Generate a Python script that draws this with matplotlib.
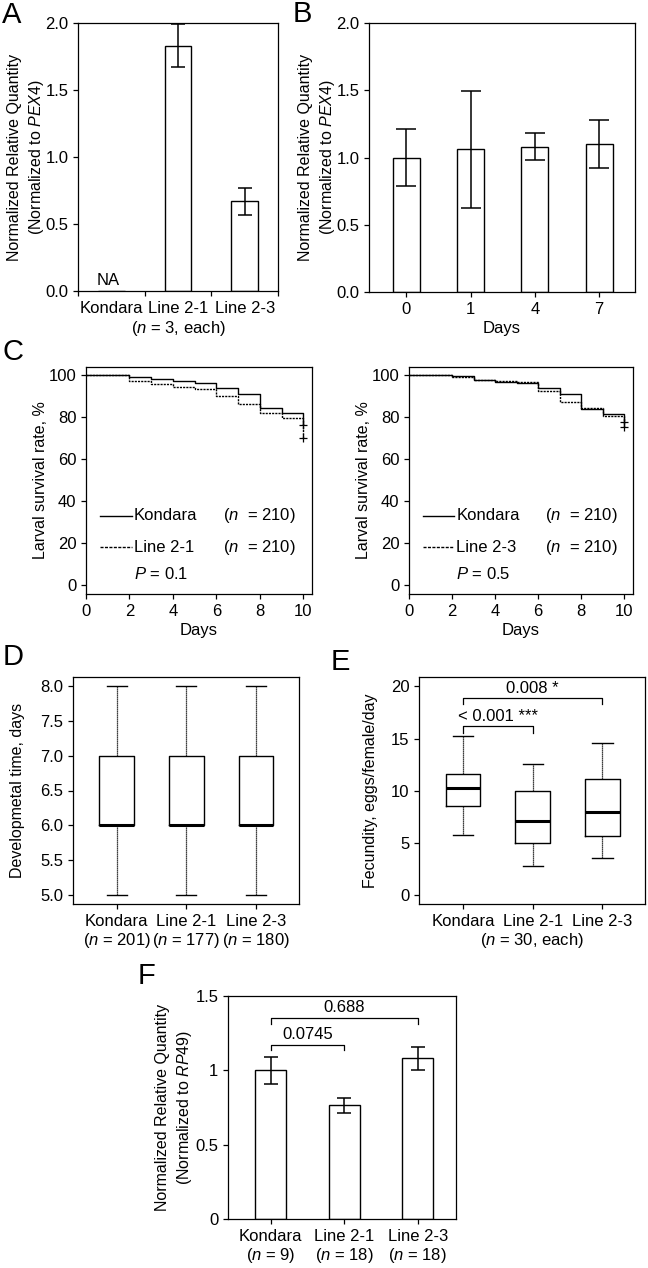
import numpy as np
import matplotlib
matplotlib.use("Agg")
import matplotlib.pyplot as plt

plt.rcParams['font.family'] = ['Liberation Sans', 'DejaVu Sans']
plt.rcParams['mathtext.fontset'] = 'custom'
plt.rcParams['mathtext.rm'] = 'Liberation Sans'
plt.rcParams['mathtext.it'] = 'Liberation Sans:italic'
plt.rcParams['font.size'] = 12
plt.rcParams['axes.linewidth'] = 0.9
plt.rcParams['xtick.major.width'] = 0.9
plt.rcParams['ytick.major.width'] = 0.9
plt.rcParams['xtick.major.size'] = 3.5
plt.rcParams['ytick.major.size'] = 3.5

# ---- data ----
# A: expression in lines
a_groups = ["Kondara", "Line 2-1", "Line 2-3"]
a_values = [np.nan, 1.83, 0.67]
a_errors = [0, 0.16, 0.10]

# B: expression over days
b_days = ["0", "1", "4", "7"]
b_values = [1.00, 1.06, 1.08, 1.10]
b_errors = [0.21, 0.435, 0.10, 0.18]

# C: larval survival (Kaplan-Meier)
surv_days = [0, 2, 3, 4, 5, 6, 7, 8, 9, 10]
surv_kondara_l = [100, 98.8, 97.9, 96.9, 96.0, 93.6, 90.9, 84.5, 82.1, 76.4]
surv_line21 = [100, 97.1, 95.9, 94.4, 93.5, 89.8, 86.3, 82.1, 79.6, 70.2]
surv_kondara_r = [100, 99.4, 97.7, 96.8, 96.3, 93.8, 91.0, 83.8, 81.4, 77.8]
surv_line23 = [100, 99.0, 97.7, 97.0, 96.8, 92.6, 87.3, 84.4, 80.6, 75.4]

# D: developmental time boxplot stats
d_labels = ["Kondara\n($\\it{n}$ = 201)", "Line 2-1\n($\\it{n}$ = 177)", "Line 2-3\n($\\it{n}$ = 180)"]
d_low = [5.0, 5.0, 5.0]
d_q1 = [6.0, 6.0, 6.0]
d_med = [6.0, 6.0, 6.0]
d_q3 = [7.0, 7.0, 7.0]
d_high = [8.0, 8.0, 8.0]

# E: fecundity boxplot stats
e_groups = ["Kondara", "Line 2-1", "Line 2-3"]
e_low = [5.75, 2.75, 3.55]
e_q1 = [8.5, 4.95, 5.65]
e_med = [10.3, 7.1, 7.95]
e_q3 = [11.6, 10.0, 11.1]
e_high = [15.2, 12.55, 14.6]

# F: expression normalized to RP49
f_labels = ["Kondara\n($\\it{n}$ = 9)", "Line 2-1\n($\\it{n}$ = 18)", "Line 2-3\n($\\it{n}$ = 18)"]
f_values = [1.00, 0.765, 1.08]
f_errors = [0.09, 0.05, 0.077]

W, H = 648, 1268
fig = plt.figure(figsize=(W / 100, H / 100), dpi=100)


def add_ax(l, r, t, b):
    return fig.add_axes([l / W, 1 - b / H, (r - l) / W, (b - t) / H])


def panel_label(x, y, s):
    fig.text(x / W, 1 - y / H, s, fontsize=21, ha='center', va='center')


def tidy(ax):
    ax.tick_params(top=False, right=False, direction='out', labelsize=12)


bar_kw = dict(color='white', edgecolor='black', linewidth=1.0)
err_kw = dict(fmt='none', ecolor='black', elinewidth=1.1, capthick=1.1)
qty_label = "Normalized Relative Quantity\n(Normalized to $\\it{PEX4}$)"
lab_fs = 11.5

# ---- A ----
ax = add_ax(78, 278, 23, 291)
xa = np.arange(len(a_groups))
ax.bar(xa, np.nan_to_num(a_values), width=0.4, **bar_kw)
ax.errorbar(xa[1:], a_values[1:], yerr=a_errors[1:], capsize=4.8, **err_kw)
ax.text(xa[0] - 0.05, 0.02, "NA", ha='center', va='bottom')
ax.set_xlim(-0.5, 2.5)
ax.set_ylim(0, 2.0)
ax.set_yticks([0, 0.5, 1.0, 1.5, 2.0])
ax.set_yticklabels(["0.0", "0.5", "1.0", "1.5", "2.0"])
ax.set_xticks(xa)
ax.set_xticklabels(a_groups)
ax.tick_params(axis='x', which='major', length=0, pad=7)
ax.set_xticks([-0.5, 0.5, 1.5, 2.5], minor=True)
ax.tick_params(axis='x', which='minor', length=3.5, width=0.9)
ax.set_xlabel("($\\it{n}$ = 3, each)", labelpad=2)
ax.set_ylabel(qty_label, linespacing=1.35, fontsize=lab_fs)
ax.yaxis.set_label_coords(-0.16, 0.5)
tidy(ax)
panel_label(12, 15, "A")

# ---- B ----
ax = add_ax(369, 635, 23, 292)
xb = np.arange(len(b_days))
ax.bar(xb, b_values, width=0.42, **bar_kw)
ax.errorbar(xb, b_values, yerr=b_errors, capsize=7.5, **err_kw)
ax.set_xlim(-0.58, 3.56)
ax.set_ylim(0, 2.0)
ax.set_yticks([0, 0.5, 1.0, 1.5, 2.0])
ax.set_yticklabels(["0.0", "0.5", "1.0", "1.5", "2.0"])
ax.set_xticks(xb)
ax.set_xticklabels(b_days)
ax.set_xlabel("Days", labelpad=3)
ax.set_ylabel(qty_label, linespacing=1.35, fontsize=lab_fs)
ax.yaxis.set_label_coords(-0.122, 0.5)
tidy(ax)
panel_label(302, 14, "B")

# ---- C ----
def survival(ax, k_vals, l_vals, line_name, pval, lab_x):
    ax.step(surv_days, k_vals, where='post', color='black', lw=1.0)
    ax.step(surv_days, l_vals, where='post', color='black', lw=1.0,
            linestyle=(0, (1.5, 0.8)))
    ax.plot([surv_days[-1]], [k_vals[-1]], marker='+', color='black', ms=6, mew=0.9)
    ax.plot([surv_days[-1]], [l_vals[-1]], marker='+', color='black', ms=6, mew=0.9)
    ax.plot([0.65, 2.1], [33, 33], color='black', lw=1.0)
    ax.plot([0.65, 2.1], [18, 18], color='black', lw=1.0, linestyle=(0, (2.2, 1.0)))
    ax.text(2.2, 33, "Kondara", va='center')
    ax.text(2.2, 18, line_name, va='center')
    ax.text(6.3, 33, "($\\it{n}$  = 210)", va='center')
    ax.text(6.3, 18, "($\\it{n}$  = 210)", va='center')
    ax.text(2.2, 5, "$\\it{P}$ = " + pval, va='center')
    ax.set_xlim(0, 10.4)
    ax.set_ylim(-4.3, 103.8)
    ax.set_xticks([0, 2, 4, 6, 8, 10])
    ax.set_yticks([0, 20, 40, 60, 80, 100])
    ax.set_xlabel("Days", labelpad=3)
    ax.set_ylabel("Larval survival rate, %", fontsize=lab_fs)
    ax.yaxis.set_label_coords(lab_x, 0.5)
    tidy(ax)


ax = add_ax(86, 312, 367, 594)
survival(ax, surv_kondara_l, surv_line21, "Line 2-1", "0.1", -0.17)
ax = add_ax(409, 633, 367, 594)
survival(ax, surv_kondara_r, surv_line23, "Line 2-3", "0.5", -0.168)
panel_label(13, 352, "C")

# ---- D and E ----
def boxes(ax, low, q1, med, q3, high):
    stats = []
    for i in range(len(med)):
        stats.append(dict(whislo=low[i], q1=q1[i], med=med[i], q3=q3[i],
                          whishi=high[i], fliers=[]))
    ax.bxp(stats, positions=range(len(med)), widths=0.5, showfliers=False,
           boxprops=dict(color='black', lw=1.0),
           medianprops=dict(color='black', lw=2.2),
           whiskerprops=dict(color='black', lw=0.9, linestyle=(0, (1, 0.6))),
           capprops=dict(color='black', lw=1.0), capwidths=0.29)


ax = add_ax(73, 299, 677, 904)
boxes(ax, d_low, d_q1, d_med, d_q3, d_high)
ax.set_xlim(-0.63, 2.62)
ax.set_ylim(4.87, 8.13)
ax.set_yticks([5.0, 5.5, 6.0, 6.5, 7.0, 7.5, 8.0])
ax.set_yticklabels(["5.0", "5.5", "6.0", "6.5", "7.0", "7.5", "8.0"])
ax.set_xticks(range(3))
ax.set_xticklabels(d_labels, linespacing=1.15)
ax.set_ylabel("Developmetal time, days", fontsize=lab_fs)
ax.yaxis.set_label_coords(-0.213, 0.5)
tidy(ax)
panel_label(13, 657, "D")

ax = add_ax(419, 645, 677, 904)
boxes(ax, e_low, e_q1, e_med, e_q3, e_high)
ax.set_xlim(-0.63, 2.61)
ax.set_ylim(-0.86, 20.9)
ax.set_yticks([0, 5, 10, 15, 20])
ax.set_xticks(range(3))
ax.set_xticklabels(e_groups)
ax.set_xlabel("($\\it{n}$ = 30, each)", labelpad=2)
ax.plot([0, 0, 2, 2], [18.3, 18.9, 18.9, 18.3], color='black', lw=0.9)
ax.text(1, 19.1, "0.008 *", ha='center', va='bottom')
ax.plot([0, 0, 1, 1], [15.5, 16.2, 16.2, 15.5], color='black', lw=0.9)
ax.text(0.5, 16.4, "< 0.001 ***", ha='center', va='bottom')
ax.set_ylabel("Fecundity, eggs/female/day", fontsize=lab_fs)
ax.yaxis.set_label_coords(-0.182, 0.5)
tidy(ax)
panel_label(340, 662, "E")

# ---- F ----
ax = add_ax(228, 456, 996, 1219)
xf = np.arange(len(f_values))
ax.bar(xf, f_values, width=0.42, **bar_kw)
ax.errorbar(xf, f_values, yerr=f_errors, capsize=5, **err_kw)
ax.plot([0, 0, 2, 2], [1.31, 1.354, 1.354, 1.31], color='black', lw=0.9)
ax.text(1, 1.37, "0.688", ha='center', va='bottom')
ax.plot([0, 0, 1, 1], [1.137, 1.17, 1.17, 1.137], color='black', lw=0.9)
ax.text(0.5, 1.19, "0.0745", ha='center', va='bottom')
ax.set_xlim(-0.58, 2.52)
ax.set_ylim(0, 1.5)
ax.set_yticks([0, 0.5, 1, 1.5])
ax.set_yticklabels(["0", "0.5", "1", "1.5"])
ax.set_xticks(xf)
ax.set_xticklabels(f_labels, linespacing=1.15)
ax.set_ylabel("Normalized Relative Quantity\n(Normalized to $\\it{RP49}$)",
              linespacing=1.35, fontsize=lab_fs)
ax.yaxis.set_label_coords(-0.148, 0.5)
tidy(ax)
panel_label(146, 976, "F")

fig.savefig("out.png", dpi=100)
